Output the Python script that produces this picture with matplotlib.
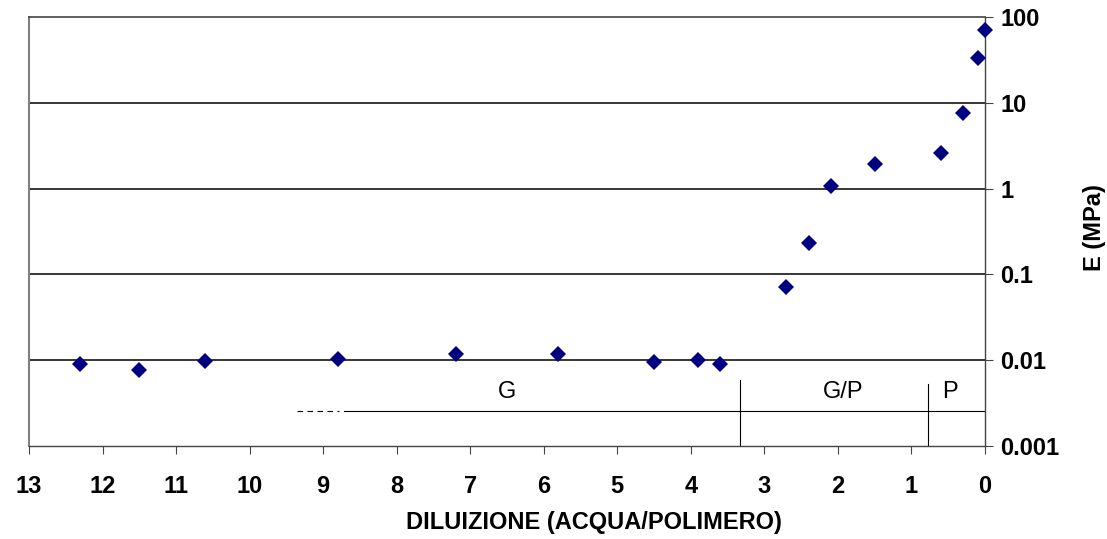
import matplotlib
matplotlib.use('Agg')
import matplotlib.pyplot as plt
from matplotlib.ticker import FixedLocator, FixedFormatter, NullLocator

plt.rcParams['font.family'] = ['Liberation Sans', 'DejaVu Sans']

# dati
diluizione = [12.3, 11.5, 10.6, 8.8, 7.2, 5.8, 4.5, 3.9, 3.6,
              2.7, 2.4, 2.1, 1.5, 0.6, 0.3, 0.1, 0.0]
modulo_E = [0.0090, 0.0076, 0.0097, 0.0103, 0.0117, 0.0117, 0.0095, 0.0100, 0.0090,
            0.072, 0.23, 1.08, 1.96, 2.63, 7.6, 33.4, 70.5]

y_ticks = [0.001, 0.01, 0.1, 1, 10, 100]
y_labels = ['0.001', '0.01', '0.1', '1', '10', '100']
x_ticks = list(range(0, 14))

# zone: G, G/P, P
livello_zone = 0.00256
confini = [3.33, 0.78]
altezza_confini = [0.0059, 0.0053]
zone_labels = ['G', 'G/P', 'P']
zone_x = [6.5, 1.93, 0.48]

fig = plt.figure(figsize=(11.07, 5.39), dpi=100)
ax = fig.add_axes([29/1107, 1 - 446/539, (985 - 29)/1107, (446 - 17)/539])

ax.set_yscale('log')
ax.set_xlim(13, 0)
ax.set_ylim(0.001, 100)

for y in y_ticks[1:-1]:
    ax.axhline(y, color='black', lw=1.1, zorder=1)

ax.plot(diluizione, modulo_E, linestyle='none', marker='D', ms=8.2,
        color='#000080', markeredgewidth=0, zorder=3, clip_on=False)

# linea delle zone
ax.plot([8.72, 0], [livello_zone, livello_zone], color='black', lw=0.8, zorder=2)
ax.plot([9.35, 8.78], [livello_zone, livello_zone], color='black', lw=0.8,
        linestyle=(0, (5, 4)), zorder=2)
for xc, hc in zip(confini, altezza_confini):
    ax.plot([xc, xc], [0.001, hc], color='black', lw=0.8, zorder=2)
for lab, xz in zip(zone_labels, zone_x):
    ax.text(xz, 0.0043, lab, ha='center', va='center', fontsize=17)

ax.yaxis.tick_right()
ax.yaxis.set_major_locator(FixedLocator(y_ticks))
ax.yaxis.set_major_formatter(FixedFormatter(y_labels))
ax.yaxis.set_minor_locator(NullLocator())
ax.xaxis.set_major_locator(FixedLocator(x_ticks))
ax.set_xticklabels([str(v) for v in x_ticks])

ax.tick_params(axis='y', direction='out', length=6, width=0.8, color='#444444',
               pad=5, labelsize=17)
ax.tick_params(axis='x', direction='out', length=6, width=0.8, color='#444444',
               pad=15, labelsize=17)
for lab in ax.get_xticklabels() + ax.get_yticklabels():
    lab.set_fontweight('bold')

ax.spines['left'].set_color('#808080')
ax.spines['left'].set_linewidth(1.5)
ax.spines['top'].set_color('#444444')
ax.spines['top'].set_linewidth(1.2)
ax.spines['right'].set_color('#444444')
ax.spines['right'].set_linewidth(1.0)
ax.spines['bottom'].set_color('#444444')
ax.spines['bottom'].set_linewidth(1.0)

fig.text(594/1107, 1 - 523/539, 'DILUIZIONE (ACQUA/POLIMERO)', ha='center',
         va='center', fontsize=17, fontweight='bold')
fig.text(1095/1107, 1 - 228/539, 'E (MPa)', ha='center', va='center',
         rotation=90, fontsize=17, fontweight='bold')

fig.savefig('out.png', dpi=100)
